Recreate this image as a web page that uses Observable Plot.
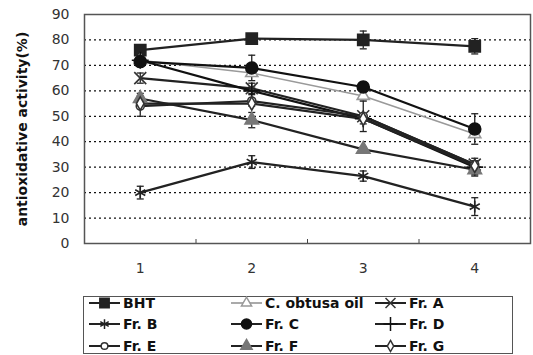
<!DOCTYPE html>
<html><head><meta charset="utf-8">
<script src="https://cdn.jsdelivr.net/npm/d3@7"></script>
<script src="https://cdn.jsdelivr.net/npm/@observablehq/plot@0.6"></script>
<style>
body{margin:0;background:#fff;font-family:"DejaVu Sans",sans-serif;}
#chart{position:relative;width:533px;height:355px;overflow:hidden;background:#fff}
#chart svg{display:block}
#legend{position:absolute;left:83px;top:296px;width:430px;height:58px;border:1.5px solid #555;box-sizing:border-box;}
.item{position:absolute;display:flex;align-items:center;font-weight:bold;font-size:14px;color:#111;white-space:nowrap;height:20px}
.item svg{margin-right:3px}
</style></head><body><div id="chart"></div>
<script>
// ---- data ----
const categories = [1, 2, 3, 4];
const xMinorTicks = [1.5, 2.5, 3.5];
const yTicks = [0, 10, 20, 30, 40, 50, 60, 70, 80, 90];
const gridValues = [10, 20, 30, 40, 50, 60, 70, 80];
const seriesNames = ["BHT", "C. obtusa oil", "Fr. A", "Fr. B", "Fr. C", "Fr. D", "Fr. E", "Fr. F", "Fr. G"];
const yLabel = "antioxidative activity(%)";

const bht    = [76, 80.5, 80, 77.5];
const oil    = [72, 67, 58, 43];
const frA    = [65, 61, 50, 31];
const frB    = [20, 32, 26.5, 14.5];
const frC    = [71.5, 69, 61.5, 45];
const frD    = [72, 60, 49, 30];
const frE    = [54, 56, 50, 31];
const frF    = [57, 48.5, 37, 29];
const frG    = [55, 55, 49, 30.5];

const bhtErr = [1.5, 1, 3.5, 3];
const oilErr = [1, 1, 2, 1];
const frAErr = [2, 2, 6, 1.5];
const frBErr = [2.5, 2.5, 2, 3.5];
const frCErr = [1.5, 5, 2, 6];
const frDErr = [1, 1.5, 2, 3.5];
const frEErr = [4, 1, 1, 1.5];
const frFErr = [2, 3, 1, 2];
const frGErr = [1, 1, 1, 1];

const values = [bht, oil, frA, frB, frC, frD, frE, frF, frG];
const errors = [bhtErr, oilErr, frAErr, frBErr, frCErr, frDErr, frEErr, frFErr, frGErr];

// ---- styles ----
const styles = [
  {symbol: "square", fill: "#222", stroke: "#222", line: "#222", r: 6.3},
  {symbol: "triangle", fill: "white", stroke: "#999", line: "#9a9a9a", r: 4.5},
  {symbol: "times", fill: "none", stroke: "#333", line: "#222", r: 5.5},
  {symbol: "asterisk", fill: "none", stroke: "#222", line: "#222", r: 5.5},
  {symbol: "circle", fill: "#111", stroke: "#111", line: "#111", r: 6},
  {symbol: "plus", fill: "none", stroke: "#111", line: "#111", r: 5.5},
  {symbol: "circle", fill: "white", stroke: "#333", line: "#222", r: 4},
  {symbol: "triangle", fill: "#777", stroke: "#777", line: "#222", r: 5},
  {symbol: "diamond", fill: "white", stroke: "#333", line: "#222", r: 4}
];

const capSymbol = {draw(context, size) { const w = Math.sqrt(size / Math.PI); context.moveTo(-w, 0); context.lineTo(w, 0); }};

const marks = [
  Plot.ruleY(gridValues, {stroke: "#111", strokeWidth: 1.3, strokeDasharray: "2,3"}),
  Plot.frame({stroke: "#555", strokeWidth: 1.5}),
  Plot.axisX({ticks: xMinorTicks, tickSize: 4, dy: -4, tickFormat: () => "", stroke: "#444", label: null}),
  Plot.axisX({ticks: categories, tickSize: 0, tickPadding: 20, tickFormat: d3.format("d"), fontSize: 14, fill: "#333", label: null}),
  Plot.axisY({ticks: yTicks, tickSize: 0, tickPadding: 15, fontSize: 14, fill: "#333", label: null}),
  Plot.text([yLabel], {frameAnchor: "left", textAnchor: "middle", dx: -62, rotate: -90, fontWeight: "bold", fontSize: 14, fill: "#111"})
];

seriesNames.forEach((name, i) => {
  const rows = categories.map((c, j) => ({series: name, x: c, y: values[i][j], err: errors[i][j]}));
  const st = styles[i];
  const barColor = i === 1 ? "#999" : "#222";
  marks.push(Plot.ruleX(rows, {x: "x", y1: d => d.y - d.err, y2: d => d.y + d.err, stroke: barColor, strokeWidth: 1.3}));
  marks.push(Plot.dot(rows, {x: "x", y: d => d.y - d.err, symbol: capSymbol, r: 3.5, stroke: barColor, strokeWidth: 1.3}));
  marks.push(Plot.dot(rows, {x: "x", y: d => d.y + d.err, symbol: capSymbol, r: 3.5, stroke: barColor, strokeWidth: 1.3}));
  marks.push(Plot.line(rows, {x: "x", y: "y", stroke: st.line, strokeWidth: i === 1 ? 1.6 : 2.2}));
});
seriesNames.forEach((name, i) => {
  const rows = categories.map((c, j) => ({series: name, x: c, y: values[i][j]}));
  const st = styles[i];
  marks.push(Plot.dot(rows, {x: "x", y: "y", symbol: st.symbol, r: st.r, fill: st.fill, stroke: st.stroke, strokeWidth: 1.6}));
});

const chart = Plot.plot({
  width: 533, height: 290,
  marginTop: 14, marginBottom: 47, marginLeft: 84, marginRight: 3,
  style: {fontFamily: "DejaVu Sans, sans-serif", fontSize: "14px", color: "#333", background: "white"},
  x: {type: "linear", domain: [0.5, 4.5], axis: null},
  y: {domain: [0, 90], axis: null},
  marks
});
const root = document.getElementById("chart");
root.appendChild(chart);

// ---- legend ----
const legend = document.createElement("div");
legend.id = "legend";
root.appendChild(legend);
const symMap = {square: d3.symbolSquare, triangle: d3.symbolTriangle, times: d3.symbolTimes, asterisk: d3.symbolAsterisk,
  circle: d3.symbolCircle, plus: d3.symbolPlus, diamond: d3.symbolDiamond};
const colLeft = [5, 147, 291];
const rowTop = [-4, 17, 39];
seriesNames.forEach((name, i) => {
  const st = styles[i];
  const item = document.createElement("div");
  item.className = "item";
  item.style.left = colLeft[i % 3] + "px";
  item.style.top = rowTop[Math.floor(i / 3)] + "px";
  const svg = d3.create("svg").attr("width", 31).attr("height", 16);
  svg.append("line").attr("x1", 0).attr("x2", 31).attr("y1", 8).attr("y2", 8)
    .attr("stroke", i === 1 ? "#aaa" : "#222").attr("stroke-width", 2);
  svg.append("path").attr("transform", "translate(15.5,8)")
    .attr("d", d3.symbol(symMap[st.symbol], st.r * st.r * Math.PI * 0.7)())
    .attr("fill", st.fill).attr("stroke", st.stroke).attr("stroke-width", 1.5);
  item.appendChild(svg.node());
  const span = document.createElement("span");
  span.textContent = name;
  item.appendChild(span);
  legend.appendChild(item);
});
</script></body></html>
